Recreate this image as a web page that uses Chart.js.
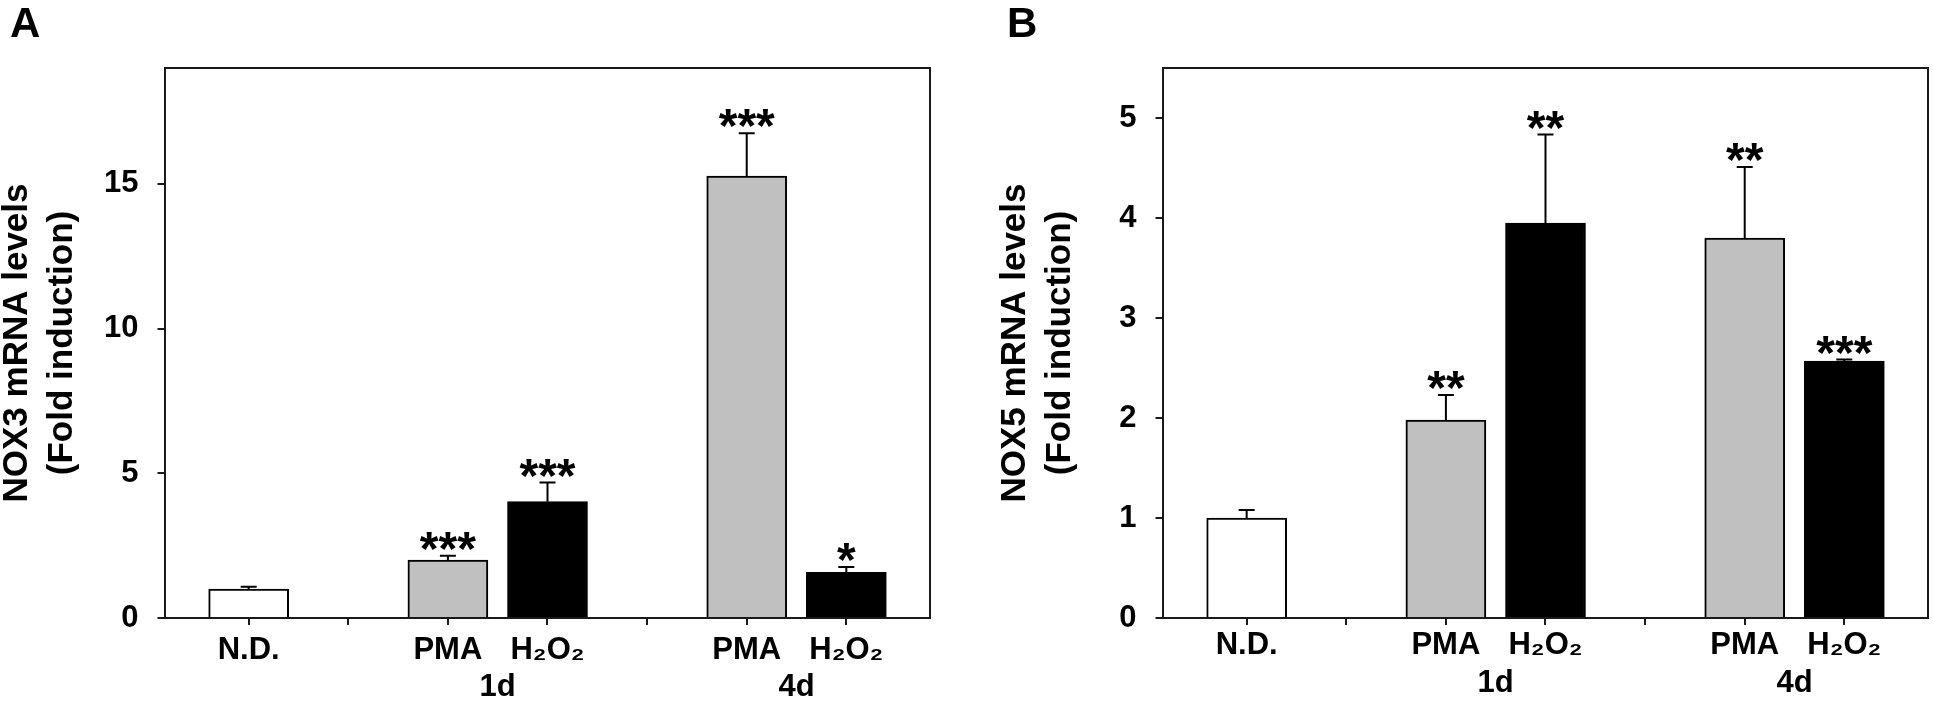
<!DOCTYPE html>
<html>
<head>
<meta charset="utf-8">
<script src="https://cdn.jsdelivr.net/npm/chart.js@4.4.1/dist/chart.umd.min.js"></script>
<style>
  html, body { margin: 0; padding: 0; background: #fff; }
  body { width: 1933px; height: 703px; position: relative; overflow: hidden; font-family: "Liberation Sans", Arial, sans-serif; }
  .panel { position: absolute; top: 0; height: 703px; }
  .letter { position: absolute; top: 2px; font-size: 42px; line-height: 42px; font-weight: bold; color: #000; }
</style>
</head>
<body>
<div class="panel" style="left:0;width:998px"><canvas id="chartA"></canvas></div>
<div class="panel" style="left:998px;width:935px"><canvas id="chartB"></canvas></div>
<div class="letter" style="left:10px">A</div>
<div class="letter" style="left:1007px">B</div>
<script>
// slots on the x axis; empty strings are the gaps between groups
const categories = ['N.D.', '', 'PMA', 'H₂O₂', '', 'PMA', 'H₂O₂'];
const treatments = ['nd', null, 'pma', 'h2o2', null, 'pma', 'h2o2'];
const groupNames = ['1d', '4d'];
const groupMembers = [[2, 3], [5, 6]];

// panel A - NOX3
const nox3Values = [1.0, null, 2.0, 4.02, null, 15.27, 1.58];
const nox3Errors = [0.08, null, 0.15, 0.66, null, 1.48, 0.18];
const nox3Stars = ['', '', '***', '***', '', '***', '*'];
const nox3Ticks = [0, 5, 10, 15];

// panel B - NOX5
const nox5Values = [1.0, null, 1.98, 3.95, null, 3.8, 2.57];
const nox5Errors = [0.08, null, 0.25, 0.885, null, 0.71, 0.015];
const nox5Stars = ['', '', '**', '**', '', '**', '***'];
const nox5Ticks = [0, 1, 2, 3, 4, 5];

const fills = { nd: '#ffffff', pma: '#c0c0c0', h2o2: '#000000' };
const family = '"Liberation Sans", Arial, sans-serif';
const tickFont = { family: family, size: 31, weight: 'bold' };
const lineColor = '#1a1a1a';
const xMin = -0.845, xMax = 6.84;

// upward error bars + significance stars
const errorBars = {
    id: 'errorBars',
    afterDatasetsDraw(chart, args, opts) {
        const { ctx, scales: { x, y } } = chart;
        ctx.save();
        ctx.strokeStyle = '#000';
        ctx.fillStyle = '#000';
        ctx.lineWidth = 2;
        ctx.font = 'bold 48px ' + family;
        ctx.textAlign = 'center';
        ctx.textBaseline = 'alphabetic';
        const m = ctx.measureText('*');
        const mid = (m.actualBoundingBoxAscent - m.actualBoundingBoxDescent) / 2;
        opts.values.forEach((v, i) => {
            if (v == null) return;
            const px = x.getPixelForValue(i);
            const top = y.getPixelForValue(v);
            const end = y.getPixelForValue(v + opts.errors[i]);
            ctx.beginPath();
            ctx.moveTo(px, top);
            ctx.lineTo(px, end);
            ctx.moveTo(px - 8, end);
            ctx.lineTo(px + 8, end);
            ctx.stroke();
            if (opts.stars[i]) {
                ctx.fillText(opts.stars[i], px, end - 15 + mid);
            }
        });
        ctx.restore();
    }
};

function makeChart(id, values, errors, stars, yMax, yTicks, yTitle, rightPad, labelPad, groupPad) {
    const points = values.map((v, i) => ({ x: i, y: v }));
    return new Chart(document.getElementById(id), {
        type: 'bar',
        data: {
            datasets: [{
                data: points,
                backgroundColor: treatments.map(t => fills[t] || 'transparent'),
                borderColor: '#000',
                borderWidth: 2,
                barThickness: 80
            }]
        },
        plugins: [errorBars],
        options: {
            responsive: true,
            maintainAspectRatio: false,
            animation: false,
            layout: { padding: { top: 68, right: rightPad, bottom: 0, left: 0 } },
            plugins: {
                legend: { display: false },
                tooltip: { enabled: false },
                errorBars: { values: values, errors: errors, stars: stars }
            },
            scales: {
                x: {
                    type: 'linear',
                    position: 'bottom',
                    weight: 0,
                    min: xMin,
                    max: xMax,
                    offset: false,
                    afterBuildTicks: s => { s.ticks = categories.map((c, i) => ({ value: i })); },
                    afterFit: s => { s.height = 50; }, // tall enough that the subscripts are not clipped
                    grid: { display: true, drawOnChartArea: false, drawTicks: true, tickLength: 7, color: lineColor, lineWidth: 2, offset: false },
                    border: { display: true, color: lineColor, width: 2 },
                    ticks: {
                        callback: v => categories[v] ?? '',
                        color: '#000',
                        font: tickFont,
                        padding: labelPad,
                        maxRotation: 0,
                        autoSkip: false
                    }
                },
                group: {
                    type: 'linear',
                    position: 'bottom',
                    weight: 1,
                    min: xMin,
                    max: xMax,
                    offset: false,
                    afterBuildTicks: s => { s.ticks = groupMembers.map(g => ({ value: (g[0] + g[1]) / 2 })); },
                    afterFit: s => { s.height = 35; },
                    grid: { display: false, drawTicks: false },
                    border: { display: false },
                    ticks: {
                        callback: (v, idx) => groupNames[idx],
                        color: '#000',
                        font: tickFont,
                        padding: groupPad,
                        maxRotation: 0,
                        autoSkip: false
                    }
                },
                xTop: {
                    type: 'linear',
                    position: 'top',
                    min: xMin,
                    max: xMax,
                    offset: false,
                    afterFit: s => { s.height = 0; },
                    grid: { display: false, drawTicks: false },
                    border: { display: true, color: lineColor, width: 2 },
                    ticks: { display: false }
                },
                y: {
                    type: 'linear',
                    position: 'left',
                    min: 0,
                    max: yMax,
                    afterBuildTicks: s => { s.ticks = yTicks.map(v => ({ value: v })); },
                    afterFit: s => { s.width = 164.5; },
                    grid: { display: true, drawOnChartArea: false, drawTicks: true, tickLength: 7, color: lineColor, lineWidth: 2 },
                    border: { display: true, color: lineColor, width: 2 },
                    ticks: { color: '#000', font: tickFont, padding: 19 },
                    title: {
                        display: true,
                        text: [yTitle, '(Fold induction)'],
                        color: '#000',
                        font: { family: family, size: 35, weight: 'bold', lineHeight: 1.28 },
                        padding: { top: -5, bottom: 0 }
                    }
                },
                yRight: {
                    type: 'linear',
                    position: 'right',
                    min: 0,
                    max: yMax,
                    afterFit: s => { s.width = 0; },
                    grid: { display: false, drawTicks: false },
                    border: { display: true, color: lineColor, width: 2 },
                    ticks: { display: false }
                }
            }
        }
    });
}

makeChart('chartA', nox3Values, nox3Errors, nox3Stars, 19, nox3Ticks, 'NOX3 mRNA levels', 68, 7, 1);
makeChart('chartB', nox5Values, nox5Errors, nox5Stars, 5.5, nox5Ticks, 'NOX5 mRNA levels', 5, 1.5, -3);
</script>
</body>
</html>
